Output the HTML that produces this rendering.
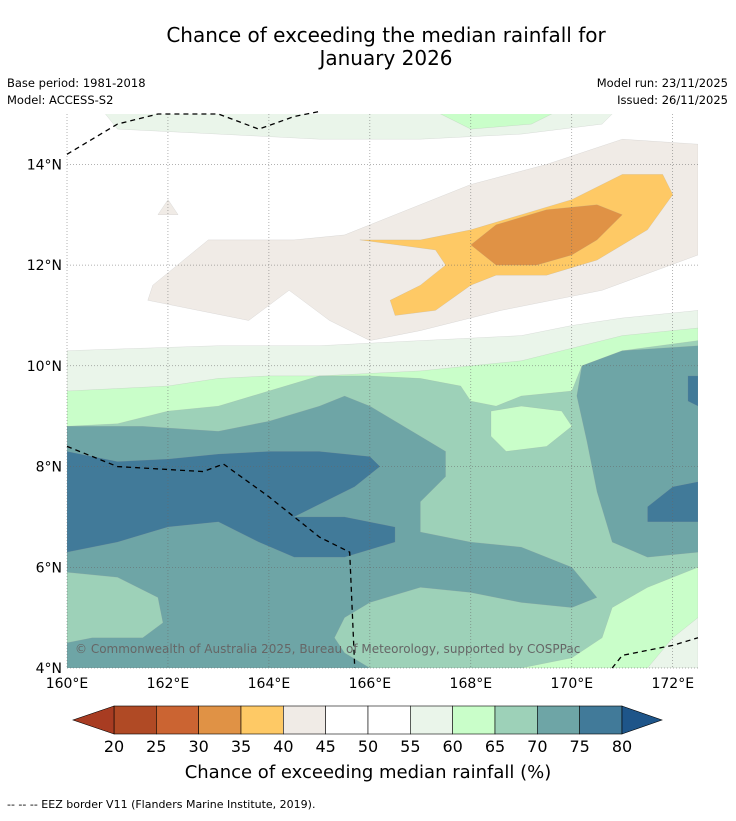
<!DOCTYPE html>
<html><head><meta charset="utf-8">
<style>
body{margin:0;background:#fff;font-family:"Liberation Sans","DejaVu Sans",sans-serif;}
svg text{font-family:"DejaVu Sans","Liberation Sans",sans-serif;}
</style></head>
<body>
<svg id="c" width="736" height="816" viewBox="0 0 736 816" xmlns="http://www.w3.org/2000/svg">
<text x="386" y="42" text-anchor="middle" font-size="20">Chance of exceeding the median rainfall for</text>
<text x="386" y="65" text-anchor="middle" font-size="20">January 2026</text>
<text x="7" y="87" font-size="11.5">Base period: 1981-2018</text>
<text x="7" y="104" font-size="11.5">Model: ACCESS-S2</text>
<text x="728" y="87" font-size="11.5" text-anchor="end">Model run: 23/11/2025</text>
<text x="728" y="104" font-size="11.5" text-anchor="end">Issued: 26/11/2025</text>
<defs><clipPath id="mapclip"><rect x="67" y="114" width="631" height="554"/></clipPath></defs>
<g id="map" clip-path="url(#mapclip)"></g>
<g id="grid"></g>
<g id="eez"></g>
<g id="axes"></g>
<text x="75" y="653" font-size="12" fill="#666">© Commonwealth of Australia 2025, Bureau of Meteorology, supported by COSPPac</text>
<g id="cbar"></g>
<text x="368" y="778" text-anchor="middle" font-size="18">Chance of exceeding median rainfall (%)</text>
<text x="7" y="808" font-size="11">-- -- -- EEZ border V11 (Flanders Marine Institute, 2019).</text>
</svg>
<script>
const lonTicks=[160,162,164,166,168,170,172];
const latTicks=[4,6,8,10,12,14];
const cbLevels=[20,25,30,35,40,45,50,55,60,65,70,75,80];
const cbColors=['#b04a25','#cb6432','#e09245','#fec965','#f0ebe6','#ffffff','#ffffff','#eaf5ea','#c9fec9','#9dd1b8','#6ea5a6','#417a99'];
const colLow='#a83c22', colHigh='#1e5589';
const fill={55:'#eaf5ea',60:'#c9fec9',65:'#9dd1b8',70:'#6ea5a6',75:'#417a99',40:'#f0ebe6',35:'#fec965',30:'#e09245'};
const layers=[
 [55,[[160,10.3],[161.5,10.35],[163,10.4],[165,10.4],[167,10.5],[169,10.6],[170,10.8],[171,10.95],[172.5,11.1],[172.5,4],[160,4]]],
 [55,[[160.6,15.2],[171,15.2],[170.6,14.8],[169,14.6],[167,14.5],[165,14.5],[163,14.6],[161,14.7]]],
 [60,[[167,15.2],[170,15.2],[169.2,14.8],[168,14.7]]],
 [60,[[160,9.5],[161,9.55],[162,9.6],[163,9.75],[164,9.8],[165,9.8],[166,9.85],[167,9.9],[168,10],[169,10.1],[170,10.35],[171,10.6],[172.5,10.75],[172.5,4],[160,4]]],
 [55,[[172.5,5],[172,4.6],[171.5,4],[172.5,4]]],
 [65,[[160,8.8],[161,8.85],[162,9.1],[163,9.2],[164,9.5],[165,9.8],[166,9.8],[167,9.75],[167.8,9.6],[168,9.3],[168.5,9.2],[169,9.4],[170,9.5],[170.2,10],[171,10.3],[172.5,10.5],[172.5,6],[171.5,5.6],[170.8,5.2],[170.6,4.6],[170,4.2],[169,4],[160,4]]],
 [70,[[160,8.8],[161.5,8.8],[163,8.7],[164,8.9],[165,9.2],[165.5,9.4],[166,9.2],[167,8.6],[167.5,8.3],[167.5,7.8],[167,7.3],[167,6.7],[168,6.5],[169,6.4],[170,6.0],[170.5,5.4],[170,5.2],[169,5.3],[168,5.5],[167,5.6],[166,5.3],[165.5,5],[165.3,4.6],[165.5,4.3],[166,4],[160,4]]],
 [70,[[170.2,10],[171,10.3],[172.5,10.4],[172.5,6.3],[171.5,6.2],[170.8,6.5],[170.5,7.5],[170.3,8.5],[170.1,9.4]]],
 [65,[[160,5.9],[161,5.8],[161.8,5.4],[161.9,4.9],[161.5,4.6],[160.5,4.6],[160,4.5]]],
 [60,[[168.4,9.1],[169,9.2],[169.8,9.1],[170,8.8],[169.5,8.4],[168.7,8.3],[168.4,8.6]]],
 [75,[[160,8.3],[161,8.1],[162,8.15],[163,8.25],[164,8.3],[165,8.3],[166,8.2],[166.2,8.0],[165.7,7.6],[164.5,7],[165.5,7],[166.5,6.8],[166.5,6.5],[165.5,6.2],[164.5,6.2],[163.8,6.5],[163,6.9],[162,6.8],[161,6.5],[160,6.3]]],
 [75,[[171.5,7.2],[172,7.6],[172.5,7.7],[172.5,6.9],[171.5,6.9]]],
 [75,[[172.3,9.8],[172.5,9.8],[172.5,9.2],[172.3,9.3]]],
 [40,[[161.7,11.6],[162.8,12.5],[164.5,12.5],[165.5,12.6],[166.5,13],[168,13.6],[169.5,14],[171,14.5],[172.5,14.4],[172.5,12.2],[170.6,11.5],[168.6,11.1],[167,10.7],[166,10.5],[165.2,10.9],[164.4,11.5],[163.6,10.9],[162.6,11.1],[161.6,11.3]]],
 [40,[[161.8,13],[162,13.3],[162.2,13]]],
 [35,[[165.8,12.5],[167,12.5],[168,12.7],[169,13],[170,13.3],[171,13.8],[171.8,13.8],[172,13.4],[171.5,12.7],[170.5,12.1],[169.5,11.8],[168.5,11.8],[168,11.6],[167.3,11.1],[166.5,11],[166.4,11.3],[167,11.6],[167.5,12],[167.3,12.3]]],
 [30,[[168,12.4],[168.5,12.8],[169.5,13.1],[170.5,13.2],[171,13],[170.5,12.5],[170,12.2],[169.3,12],[168.5,12]]]
];
const eezLines=[
 [[160,14.2],[161,14.8],[161.8,15],[163,15],[163.8,14.7],[164.5,14.95],[165,15.05]],
 [[160,8.4],[161,8],[162.7,7.9],[163.1,8.05],[164,7.4],[165,6.6],[165.6,6.3],[165.7,4]],
 [[170.8,4],[171,4.25],[172,4.45],[172.5,4.6]]
];
const X0=67,X1=698,Y0=114,Y1=668,LON0=160,LON1=172.5,LAT0=4,LAT1=15;
const xs=lon=>X0+(lon-LON0)/(LON1-LON0)*(X1-X0);
const ys=lat=>Y1-(lat-LAT0)/(LAT1-LAT0)*(Y1-Y0);
const NS='http://www.w3.org/2000/svg';
function mk(tag,attrs,parent){const e=document.createElementNS(NS,tag);for(const k in attrs)e.setAttribute(k,attrs[k]);parent.appendChild(e);return e;}
const map=document.getElementById('map');
layers.forEach((L,i)=>{
 const p=mk('polygon',{points:L[1].map(q=>xs(q[0]).toFixed(1)+','+ys(q[1]).toFixed(1)).join(' '),fill:fill[L[0]],stroke:'#999','stroke-width':0.3,'stroke-opacity':0.5},map);
 
 
});
const grid=document.getElementById('grid');
lonTicks.forEach(v=>{const l=mk('line',{x1:xs(v),x2:xs(v),y1:Y0,y2:Y1,stroke:'#666','stroke-width':0.5,'stroke-dasharray':'1,2'},grid);
 
 });
latTicks.forEach(v=>{const l=mk('line',{x1:X0,x2:X1,y1:ys(v),y2:ys(v),stroke:'#666','stroke-width':0.5,'stroke-dasharray':'1,2'},grid);
 
 });
const eez=document.getElementById('eez');
eezLines.forEach((ln,i)=>{const p=mk('polyline',{points:ln.map(q=>xs(q[0])+','+ys(q[1])).join(' '),fill:'none',stroke:'#000','stroke-width':1.3,'stroke-dasharray':'5,4'},eez);
 
 });
const axes=document.getElementById('axes');
lonTicks.forEach(v=>{const t=mk('text',{x:xs(v),y:Y1+20,'text-anchor':'middle','font-size':14},axes);t.textContent=v+'°E';
 
 });
latTicks.forEach(v=>{const t=mk('text',{x:X0-5,y:ys(v)+5,'text-anchor':'end','font-size':14},axes);t.textContent=v+'°N';
 
 });
const cb=document.getElementById('cbar');
const CX0=114,CX1=622,CY0=706,CY1=734;
const cx=v=>CX0+(v-cbLevels[0])/(cbLevels[cbLevels.length-1]-cbLevels[0])*(CX1-CX0);
cbColors.forEach((c,i)=>{const r=mk('rect',{x:cx(cbLevels[i]),y:CY0,width:cx(cbLevels[i+1])-cx(cbLevels[i]),height:CY1-CY0,fill:c,stroke:'#000','stroke-width':0.6},cb);
 
 });
const tl=mk('polygon',{points:`${CX0},${CY0} ${CX0},${CY1} 73,${(CY0+CY1)/2}`,fill:colLow,stroke:'#000','stroke-width':0.6},cb);


const tr=mk('polygon',{points:`${CX1},${CY0} ${CX1},${CY1} 662,${(CY0+CY1)/2}`,fill:colHigh,stroke:'#000','stroke-width':0.6},cb);


cbLevels.forEach(v=>{const t=mk('text',{x:cx(v),y:752,'text-anchor':'middle','font-size':16},cb);t.textContent=v;
 
 });
</script>
</body></html>
